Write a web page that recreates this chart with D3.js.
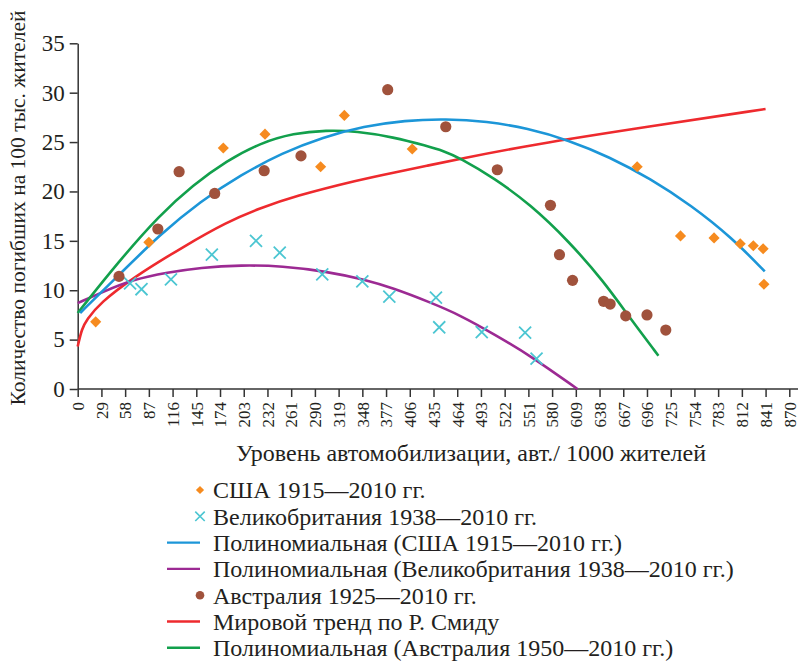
<!DOCTYPE html>
<html>
<head>
<meta charset="utf-8">
<script src="https://cdn.jsdelivr.net/npm/d3@7"></script>
<style>
  body { margin: 0; background: #fff; }
  svg { display: block; }
</style>
</head>
<body>
<svg></svg>
<script>
// tick labels
var xTickValues = [0, 29, 58, 87, 116, 145, 174, 203, 232, 261, 290, 319, 348, 377, 406, 435,
    464, 493, 522, 551, 580, 609, 638, 667, 696, 725, 754, 783, 812, 841, 870];
var yTickValues = [0, 5, 10, 15, 20, 25, 30, 35];

// США 1915-2010 (авт./1000, погибших/100 тыс.)
var usaPoints = [[22, 6.8], [87, 14.85], [178, 24.4], [229, 25.8], [297, 22.5], [326, 27.7],
    [409, 24.3], [684, 22.5], [737, 15.5], [778, 15.3], [810, 14.7], [826, 14.5], [838, 14.2], [839, 10.6]];

// Великобритания 1938-2010
var ukPoints = [[64, 10.7], [78, 10.1], [114, 11.1], [164, 13.6], [218, 15.0], [247, 13.8],
    [299, 11.6], [348, 10.9], [381, 9.35], [438, 9.25], [442, 6.25], [494, 5.77], [547, 5.7], [561, 3.07]];

// Австралия 1925-2010
var ausPoints = [[50.5, 11.4], [98, 16.2], [124, 22.0], [167.5, 19.8], [228, 22.1], [273, 23.6],
    [379, 30.3], [450, 26.55], [513, 22.2], [578, 18.6], [589, 13.6], [605, 11.0], [643, 8.88],
    [651, 8.6], [670, 7.4], [696, 7.5], [719, 5.97]];

// линии трендов
var usaFit = [[3, 7.7], [50, 11.5], [100, 15.6], [150, 19.0], [200, 21.7], [250, 23.9], [300, 25.5],
    [350, 26.6], [400, 27.2], [450, 27.35], [500, 27.1], [550, 26.4], [600, 25.2], [650, 23.5],
    [700, 21.3], [750, 18.6], [800, 15.3], [840, 11.9]];

var ukFit = [[0, 8.7], [30, 9.8], [68, 11.1], [110, 11.8], [150, 12.3], [200, 12.55], [250, 12.45],
    [304, 11.9], [350, 11.1], [386, 10.2], [430, 8.8], [467, 7.5], [510, 5.5], [553, 3.4], [611, 0]];

var ausFit = [[0, 7.7], [50, 12.9], [100, 17.6], [141, 20.65], [182, 23.1], [223, 24.9], [264, 25.9],
    [304, 26.2], [341, 26.1], [386, 25.5], [427, 24.6], [447, 24.1], [467, 23.4], [510, 21.3],
    [553, 18.7], [600, 15.0], [643, 10.9], [675, 7.2], [710, 3.37]];

var worldTrend = [[0, 4.3], [5, 6.1], [11, 7.0], [27, 8.7], [68, 11.3], [129, 14.4], [182, 16.9],
    [223, 18.3], [264, 19.5], [345, 21.2], [386, 21.9], [427, 22.6], [467, 23.3], [553, 24.7],
    [700, 26.6], [841, 28.35]];

var legendLabels = [
    "США 1915—2010 гг.",
    "Великобритания 1938—2010 гг.",
    "Полиномиальная (США 1915—2010 гг.)",
    "Полиномиальная (Великобритания 1938—2010 гг.)",
    "Австралия 1925—2010 гг.",
    "Мировой тренд по Р. Смиду",
    "Полиномиальная (Австралия 1950—2010 гг.)"
];
var legendKinds = ["diamond", "cross", "line", "line", "circle", "line", "line"];

var orange = "#F68B1F", cyan = "#4CC6D2", brown = "#A0523C",
    blue = "#1C96D8", purple = "#9C2A93", red = "#EE2A2E", green = "#12A04C";
var legendColors = [orange, cyan, blue, purple, brown, red, green];

var serif = "Liberation Serif";
var textColor = "#231F20";

var svgWidth = 800, svgHeight = 661;
var svg = d3.select("svg").attr("width", svgWidth).attr("height", svgHeight);

var x = d3.scaleLinear().domain([0, 870]).range([77.7, 789.3]);
var y = d3.scaleLinear().domain([0, 35]).range([389, 43.3]);

// axes
var xAxis = svg.append("g")
    .attr("transform", "translate(0," + y(0) + ")")
    .call(d3.axisBottom(x).tickValues(xTickValues).tickSize(8).tickSizeOuter(0))
    .attr("font-family", serif);
xAxis.select(".domain").remove();
xAxis.append("line")
    .attr("x1", x(0)).attr("x2", 798)
    .attr("stroke", "#333").attr("stroke-width", 1.5);
xAxis.selectAll(".tick line").attr("stroke", "#333").attr("stroke-width", 1.5);
xAxis.selectAll(".tick text")
    .attr("transform", "rotate(-90)")
    .attr("text-anchor", "end")
    .attr("x", -13).attr("y", 0).attr("dy", "0.34em")
    .attr("font-size", 17)
    .attr("font-family", serif)
    .attr("fill", textColor);

var yAxis = svg.append("g")
    .attr("transform", "translate(" + x(0) + ",0)")
    .call(d3.axisLeft(y).tickValues(yTickValues).tickSize(8).tickSizeOuter(0).tickPadding(5))
    .attr("font-family", serif);
yAxis.select(".domain").attr("stroke", "#333").attr("stroke-width", 1.5);
yAxis.selectAll(".tick line").attr("stroke", "#333").attr("stroke-width", 1.5);
yAxis.selectAll(".tick text")
    .attr("font-size", 23)
    .attr("font-family", serif)
    .attr("fill", textColor);

// axis titles
svg.append("text")
    .attr("x", 471).attr("y", 461)
    .attr("text-anchor", "middle")
    .attr("font-size", 24)
    .attr("font-family", serif)
    .attr("fill", textColor)
    .text("Уровень автомобилизации, авт./ 1000 жителей");

svg.append("text")
    .attr("transform", "translate(25,208) rotate(-90)")
    .attr("text-anchor", "middle")
    .attr("font-size", 21.5)
    .attr("font-family", serif)
    .attr("fill", textColor)
    .text("Количество погибших на 100 тыс. жителей");

// trend lines
var line = d3.line()
    .x(d => x(d[0]))
    .y(d => y(d[1]))
    .curve(d3.curveBasis);

var fits = [[worldTrend, red], [ukFit, purple], [ausFit, green], [usaFit, blue]];
svg.append("g").selectAll("path")
    .data(fits)
    .enter()
    .append("path")
    .attr("d", d => line(d[0]))
    .attr("fill", "none")
    .attr("stroke", d => d[1])
    .attr("stroke-width", 2.6);

// markers
var diamond = d3.symbol().type(d3.symbolSquare).size(62);
var cross = d3.symbol().type(d3.symbolTimes).size(96);

svg.append("g").selectAll("path")
    .data(ukPoints)
    .enter()
    .append("path")
    .attr("d", cross)
    .attr("transform", d => "translate(" + x(d[0]) + "," + y(d[1]) + ")")
    .attr("fill", "none")
    .attr("stroke", cyan)
    .attr("stroke-width", 1.8);

svg.append("g").selectAll("path")
    .data(usaPoints)
    .enter()
    .append("path")
    .attr("d", diamond)
    .attr("transform", d => "translate(" + x(d[0]) + "," + y(d[1]) + ") rotate(45)")
    .attr("fill", orange);

svg.append("g").selectAll("circle")
    .data(ausPoints)
    .enter()
    .append("circle")
    .attr("cx", d => x(d[0]))
    .attr("cy", d => y(d[1]))
    .attr("r", 5.6)
    .attr("fill", brown);

// legend
var legend = svg.append("g").attr("transform", "translate(0,490)");
var rows = legend.selectAll("g")
    .data(legendLabels)
    .enter()
    .append("g")
    .attr("transform", (d, i) => "translate(0," + (i * 26.3) + ")");

rows.append("text")
    .attr("x", 213).attr("y", 0).attr("dy", "0.35em")
    .attr("font-size", 24)
    .attr("font-family", serif)
    .attr("fill", textColor)
    .text(d => d);

rows.each(function(d, i) {
    var r = d3.select(this), kind = legendKinds[i], c = legendColors[i];
    if (kind == "line") {
        r.append("line").attr("x1", 167).attr("x2", 200)
            .attr("stroke", c).attr("stroke-width", 2.4);
    } else if (kind == "diamond") {
        r.append("path").attr("d", d3.symbol().type(d3.symbolSquare).size(34))
            .attr("transform", "translate(200,0) rotate(45)").attr("fill", c);
    } else if (kind == "cross") {
        r.append("path").attr("d", d3.symbol().type(d3.symbolTimes).size(60))
            .attr("transform", "translate(200,0)")
            .attr("fill", "none").attr("stroke", c).attr("stroke-width", 1.6);
    } else {
        r.append("circle").attr("cx", 200).attr("r", 4.3).attr("fill", c);
    }
});
</script>
</body>
</html>
